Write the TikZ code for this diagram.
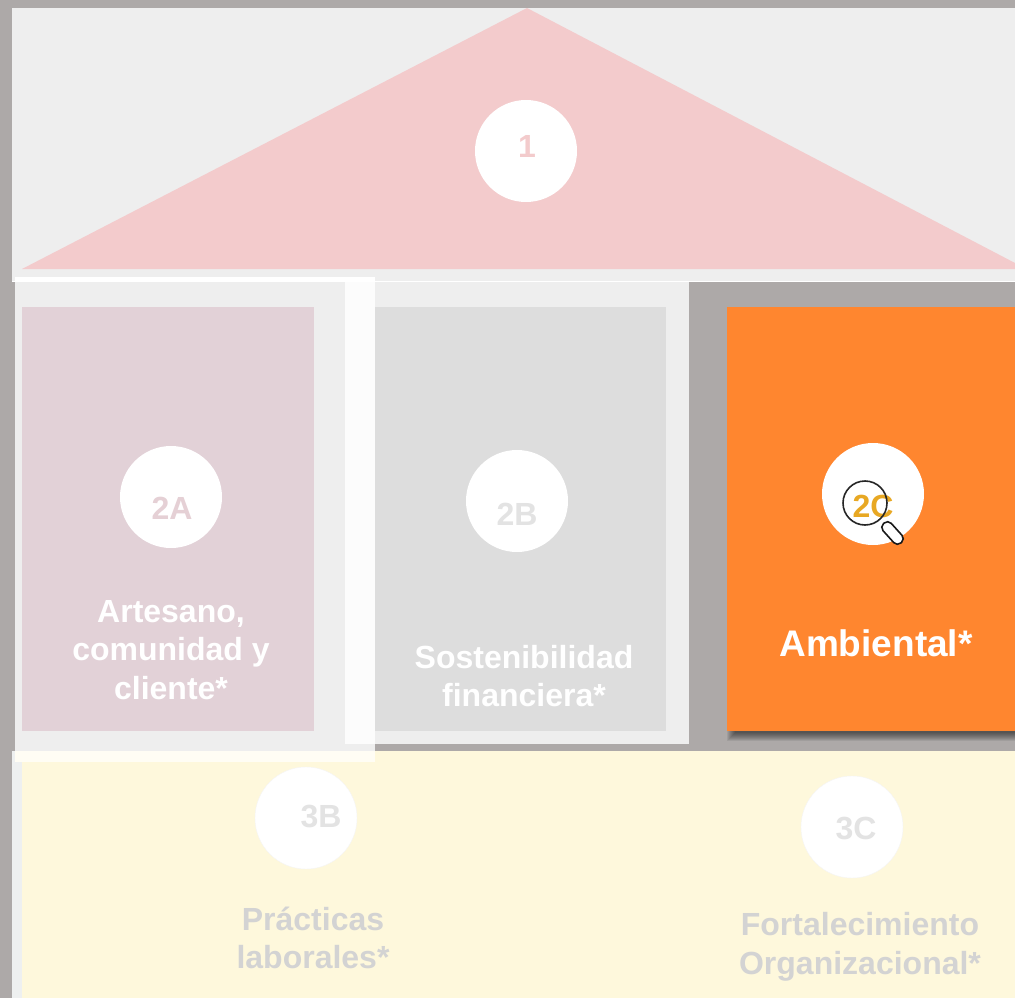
\documentclass[tikz,border=0pt]{standalone}
\usepackage{fontspec}
\setmainfont{Liberation Sans}
\definecolor{backgray}{HTML}{ADA9A8}
\definecolor{panelgray}{HTML}{EEEEEE}
\definecolor{roofpink}{HTML}{F3CBCC}
\definecolor{mauve}{HTML}{E2D1D7}
\definecolor{midgray}{HTML}{DDDDDD}
\definecolor{sunorange}{HTML}{FF862F}
\definecolor{cream}{HTML}{FEF8DC}
\definecolor{paleedge}{HTML}{EEF0F0}
\definecolor{stripwhite}{HTML}{FCFCFC}
\definecolor{stripcream}{HTML}{FFFDF4}
\definecolor{goldtext}{HTML}{E8A823}
\definecolor{fadedtext}{HTML}{D3D3D3}
\definecolor{numgray}{HTML}{E3E3E3}
\tikzset{
  badge/.style={circle,fill=white,minimum size=102pt,inner sep=0pt,outer sep=0pt},
  num/.style={font=\fontsize{32}{32}\selectfont\bfseries,inner sep=0pt},
  caption/.style={font=\fontsize{32}{38.5}\selectfont\bfseries,align=center,inner sep=0pt},
}
\begin{document}
\begin{tikzpicture}[x=1pt,y=-1pt]
    \useasboundingbox (0,0) rectangle (1015,998);
    \clip (0,0) rectangle (1015,998);
    \fill[backgray] (0,0) rectangle (1015,998);
    % roof
    \fill[panelgray] (12,8) rectangle (1015,281);
    \fill[white] (12,281) rectangle (1015,282);
    \fill[roofpink] (22,269) -- (527,8) -- (1015,263) -- (1015,269) -- cycle;
    % columns
    \fill[panelgray] (375,282) rectangle (689,744);
    \fill[panelgray] (15,282) rectangle (375,751);
    \fill[stripwhite] (345,282) rectangle (375,744);
    \fill[white] (15,277) rectangle (375,282);
    \fill[mauve] (22,307) rectangle (314,731);
    \fill[midgray] (375,307) rectangle (666,731);
    \foreach \i in {5,...,-3}
      \fill[black,opacity=.07] (732-\i,312-\i) rectangle (1020+\i,736+\i);
    \fill[sunorange] (727,307) rectangle (1015,731);
    % base
    \fill[paleedge] (12,751) rectangle (22,998);
    \fill[cream] (22,751) rectangle (1015,998);
    \fill[stripcream] (15,751) rectangle (375,762);
    % badges
    \node[badge] (b1) at (526,151) {};
    \node[badge] (b2a) at (171,497) {};
    \node[badge] (b2b) at (517,501) {};
    \node[badge] (b2c) at (873,494) {};
    \node[badge,draw=white!96!black] (b3b) at (306,818) {};
    \node[badge,draw=white!96!black] (b3c) at (852,827) {};
    \node[num,roofpink] (n1) at (527,146.5) {1};
    \node[num,mauve!80!roofpink] (n2a) at (172,508) {2A};
    \node[num,numgray] (n2b) at (517,514) {2B};
    \node[num,goldtext] (n2c) at (873,506) {2C};
    \node[num,numgray] (n3b) at (321,817) {3B};
    \node[num,numgray] (n3c) at (856,828) {3C};
    % captions
    \node[caption,white] (t2a) at (171,650) {Artesano,\\comunidad y\\cliente*};
    \node[caption,white] (t2b) at (524,676) {Sostenibilidad\\financiera*};
    \node[caption,white,font=\fontsize{37}{37}\selectfont\bfseries] (t2c) at (876,643) {Ambiental*};
    \node[caption,fadedtext] (t3b) at (313,938) {Prácticas\\laborales*};
    \node[caption,fadedtext] (t3c) at (860,947) {Fortalecimiento\\Organizacional*};
    % magnifier
    \node[circle,draw=black!85,line width=1.6pt,minimum size=44pt,inner sep=0pt] (lens) at (865,503) {};
    \node[draw=black!90,fill=white,line width=1.6pt,rounded corners=5pt,minimum width=26pt,minimum height=11pt,inner sep=0pt,rotate=-48] (grip) at (892.5,533) {};
\end{tikzpicture}
\end{document}
